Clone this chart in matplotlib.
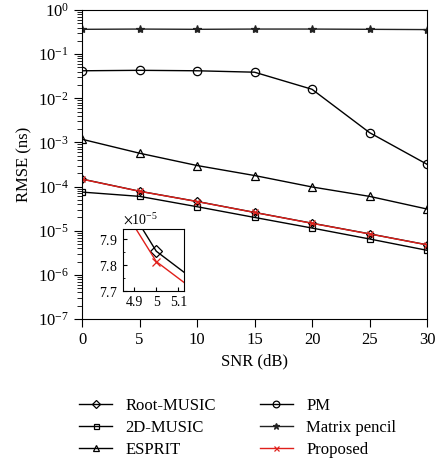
import numpy as np
import matplotlib
matplotlib.use("Agg")
import matplotlib.pyplot as plt
from matplotlib.ticker import LogLocator, MultipleLocator, NullFormatter

plt.rcParams['font.family'] = ['Liberation Serif', 'DejaVu Serif']
plt.rcParams['mathtext.fontset'] = 'stix'

snr = [0, 5, 10, 15, 20, 25, 30]

root_music = [1.48e-4, 7.854e-5, 4.6e-5, 2.6e-5, 1.48e-5, 8.5e-6, 4.8e-6]
music_2d = [7.5e-5, 6.0e-5, 3.5e-5, 2.0e-5, 1.15e-5, 6.5e-6, 3.6e-6]
esprit = [1.18e-3, 5.7e-4, 3.0e-4, 1.78e-4, 9.8e-5, 6.0e-5, 3.1e-5]
pm = [4.2e-2, 4.3e-2, 4.2e-2, 3.9e-2, 1.6e-2, 1.67e-3, 3.2e-4]
matrix_pencil = [0.365, 0.37, 0.365, 0.37, 0.37, 0.365, 0.36]
proposed = [1.47e-4, 7.814e-5, 4.58e-5, 2.59e-5, 1.47e-5, 8.45e-6, 4.78e-6]

W, H = 436, 466
fig = plt.figure(figsize=(W / 100, H / 100), dpi=100)
ax = fig.add_axes([82 / W, 1 - 319 / H, 345 / W, 309 / H])

series = [
    ("Root-MUSIC", root_music, dict(marker='D', ms=4.5, color='black')),
    ("2D-MUSIC", music_2d, dict(marker='s', ms=4.5, color='black')),
    ("ESPRIT", esprit, dict(marker='^', ms=6, color='black')),
    ("PM", pm, dict(marker='o', ms=6, color='black')),
    ("Matrix pencil", matrix_pencil, dict(marker='*', ms=6, color='#222222')),
    ("Proposed", proposed, dict(marker='x', ms=4.5, color='#e0201b')),
]

for label, vals, st in series:
    filled = st['marker'] in ('*', 'x')
    ax.semilogy(snr, vals, lw=1.0, label=label,
                mfc=st['color'] if filled else 'none', mec=st['color'],
                mew=0.9, **st)

ax.set_xlim(0, 30)
ax.set_ylim(1e-7, 1)
ax.set_xticks(snr)
ax.yaxis.set_major_locator(LogLocator(base=10, numticks=10))
ax.yaxis.set_minor_locator(LogLocator(base=10, subs=np.arange(2, 10), numticks=10))
ax.yaxis.set_minor_formatter(NullFormatter())
ax.tick_params(axis='both', which='major', direction='out', length=6, labelsize=12)
ax.tick_params(axis='y', which='minor', direction='out', length=3.5)
ax.set_xlabel("SNR (dB)", fontsize=12)
ax.set_ylabel("RMSE (ns)", fontsize=12)

# inset zoom around SNR = 5 dB
ins = fig.add_axes([123 / W, 1 - 291 / H, 61 / W, 62 / H])
for label, vals, st in series:
    if label in ("Root-MUSIC", "Proposed"):
        filled = st['marker'] in ('*', 'x')
        ins.plot(snr, vals, lw=1.0, mfc=st['color'] if filled else 'none',
                 mec=st['color'], mew=0.9, **dict(st, ms=st['ms'] + 1.5))
ins.set_xlim(4.85, 5.125)
ins.set_ylim(7.7e-5, 7.94e-5)
ins.set_xticks([4.9, 5.0, 5.1])
ins.set_xticklabels(["4.9", "5", "5.1"])
ins.yaxis.set_major_locator(MultipleLocator(1e-6))
ins.yaxis.set_minor_locator(MultipleLocator(0.5e-6))
ins.ticklabel_format(axis='y', style='sci', scilimits=(0, 0), useMathText=True, useOffset=False)
ins.yaxis.get_offset_text().set_fontsize(10)
ins.tick_params(axis='both', which='both', direction='in', labelsize=10)
ins.tick_params(which='major', length=3)
ins.tick_params(which='minor', length=1.5)

fig.legend(loc='center', bbox_to_anchor=(0.545, 1 - 428 / H), ncol=2,
           frameon=False, fontsize=12, handlelength=2.0, columnspacing=2.6,
           labelspacing=0.35, markerscale=0.8)

fig.savefig("out.png", dpi=100)
